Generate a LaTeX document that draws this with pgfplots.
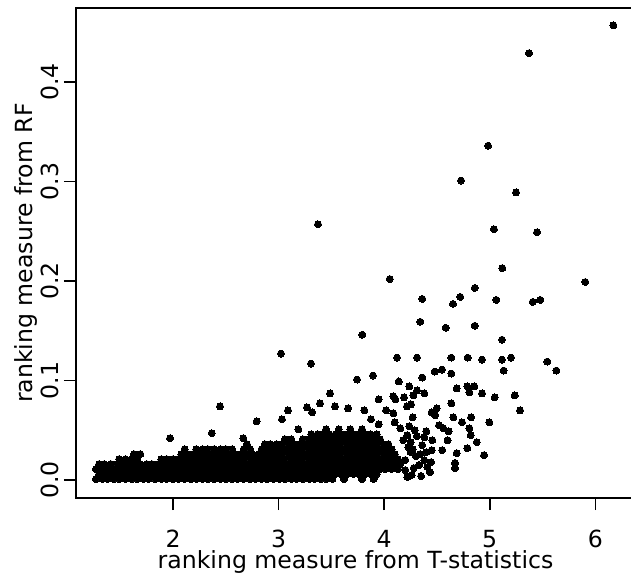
\documentclass[border=0pt]{standalone}
\usepackage{fontspec}
\setmainfont{DejaVu Sans}
\usepackage{pgfplots}
\pgfplotsset{compat=1.18}

% dense band of genes near zero, read row by row
\pgfplotstableread[row sep=\\]{
x y\\
1.27 0.001\\ 1.33 0.001\\ 1.38 0.001\\ 1.44 0.001\\ 1.49 0.001\\ 1.55 0.001\\ 1.61 0.001\\ 1.66 0.001\\ 1.72 0.001\\ 1.77 0.001\\ 1.83 0.001\\ 1.89 0.001\\ 1.94 0.001\\ 2.00 0.001\\ 2.05 0.001\\ 2.11 0.001\\ 2.17 0.001\\ 2.22 0.001\\ 2.28 0.001\\ 2.33 0.001\\ 2.39 0.001\\ 2.45 0.001\\ 2.50 0.001\\ 2.56 0.001\\ 2.61 0.001\\ 2.67 0.001\\ 2.73 0.001\\ 2.78 0.001\\ 2.84 0.001\\ 2.89 0.001\\ 2.95 0.001\\ 3.01 0.001\\ 3.06 0.001\\ 3.12 0.001\\ 3.17 0.001\\ 3.23 0.001\\ 3.29 0.001\\ 3.34 0.001\\ 3.40 0.001\\ 3.45 0.001\\ 3.51 0.001\\ 3.62 0.001\\ 3.79 0.001\\ 3.90 0.001\\
1.30 0.006\\ 1.35 0.006\\ 1.41 0.006\\ 1.47 0.006\\ 1.52 0.006\\ 1.58 0.006\\ 1.63 0.006\\ 1.69 0.006\\ 1.75 0.006\\ 1.80 0.006\\ 1.86 0.006\\ 1.91 0.006\\ 1.97 0.006\\ 2.03 0.006\\ 2.08 0.006\\ 2.14 0.006\\ 2.19 0.006\\ 2.25 0.006\\ 2.31 0.006\\ 2.36 0.006\\ 2.42 0.006\\ 2.47 0.006\\ 2.53 0.006\\ 2.59 0.006\\ 2.64 0.006\\ 2.70 0.006\\ 2.75 0.006\\ 2.81 0.006\\ 2.87 0.006\\ 2.92 0.006\\ 2.98 0.006\\ 3.03 0.006\\ 3.09 0.006\\ 3.15 0.006\\ 3.20 0.006\\ 3.26 0.006\\ 3.31 0.006\\ 3.37 0.006\\ 3.43 0.006\\ 3.48 0.006\\ 3.54 0.006\\ 3.59 0.006\\ 3.65 0.006\\ 3.71 0.006\\ 3.76 0.006\\ 3.82 0.006\\ 3.87 0.006\\ 3.93 0.006\\
1.27 0.011\\ 1.33 0.011\\ 1.38 0.011\\ 1.44 0.011\\ 1.49 0.011\\ 1.55 0.011\\ 1.61 0.011\\ 1.66 0.011\\ 1.72 0.011\\ 1.77 0.011\\ 1.83 0.011\\ 1.89 0.011\\ 1.94 0.011\\ 2.00 0.011\\ 2.05 0.011\\ 2.11 0.011\\ 2.17 0.011\\ 2.22 0.011\\ 2.28 0.011\\ 2.33 0.011\\ 2.39 0.011\\ 2.45 0.011\\ 2.50 0.011\\ 2.56 0.011\\ 2.61 0.011\\ 2.67 0.011\\ 2.73 0.011\\ 2.78 0.011\\ 2.84 0.011\\ 2.89 0.011\\ 2.95 0.011\\ 3.01 0.011\\ 3.06 0.011\\ 3.12 0.011\\ 3.17 0.011\\ 3.23 0.011\\ 3.29 0.011\\ 3.34 0.011\\ 3.40 0.011\\ 3.45 0.011\\ 3.51 0.011\\ 3.57 0.011\\ 3.62 0.011\\ 3.68 0.011\\ 3.73 0.011\\ 3.79 0.011\\ 3.85 0.011\\ 3.90 0.011\\ 3.96 0.011\\ 4.01 0.011\\ 4.07 0.011\\ 4.13 0.011\\
1.30 0.016\\ 1.35 0.016\\ 1.41 0.016\\ 1.47 0.016\\ 1.52 0.016\\ 1.58 0.016\\ 1.63 0.016\\ 1.69 0.016\\ 1.75 0.016\\ 1.80 0.016\\ 1.86 0.016\\ 1.91 0.016\\ 1.97 0.016\\ 2.03 0.016\\ 2.08 0.016\\ 2.14 0.016\\ 2.19 0.016\\ 2.25 0.016\\ 2.31 0.016\\ 2.36 0.016\\ 2.42 0.016\\ 2.47 0.016\\ 2.53 0.016\\ 2.59 0.016\\ 2.64 0.016\\ 2.70 0.016\\ 2.75 0.016\\ 2.81 0.016\\ 2.87 0.016\\ 2.92 0.016\\ 2.98 0.016\\ 3.03 0.016\\ 3.09 0.016\\ 3.15 0.016\\ 3.20 0.016\\ 3.26 0.016\\ 3.31 0.016\\ 3.37 0.016\\ 3.43 0.016\\ 3.48 0.016\\ 3.54 0.016\\ 3.59 0.016\\ 3.65 0.016\\ 3.71 0.016\\ 3.76 0.016\\ 3.82 0.016\\ 3.87 0.016\\ 3.93 0.016\\ 3.99 0.016\\ 4.04 0.016\\ 4.10 0.016\\ 4.15 0.016\\
1.49 0.021\\ 1.55 0.021\\ 1.61 0.021\\ 1.66 0.021\\ 1.89 0.021\\ 1.94 0.021\\ 2.00 0.021\\ 2.05 0.021\\ 2.11 0.021\\ 2.17 0.021\\ 2.22 0.021\\ 2.28 0.021\\ 2.33 0.021\\ 2.39 0.021\\ 2.45 0.021\\ 2.50 0.021\\ 2.56 0.021\\ 2.61 0.021\\ 2.67 0.021\\ 2.73 0.021\\ 2.78 0.021\\ 2.84 0.021\\ 2.89 0.021\\ 2.95 0.021\\ 3.01 0.021\\ 3.06 0.021\\ 3.12 0.021\\ 3.17 0.021\\ 3.23 0.021\\ 3.29 0.021\\ 3.34 0.021\\ 3.40 0.021\\ 3.45 0.021\\ 3.51 0.021\\ 3.57 0.021\\ 3.62 0.021\\ 3.68 0.021\\ 3.73 0.021\\ 3.79 0.021\\ 3.85 0.021\\ 3.90 0.021\\ 3.96 0.021\\ 4.01 0.021\\ 4.07 0.021\\ 4.13 0.021\\
1.63 0.026\\ 1.69 0.026\\ 2.08 0.026\\ 2.14 0.026\\ 2.19 0.026\\ 2.25 0.026\\ 2.31 0.026\\ 2.36 0.026\\ 2.42 0.026\\ 2.47 0.026\\ 2.53 0.026\\ 2.59 0.026\\ 2.64 0.026\\ 2.70 0.026\\ 2.75 0.026\\ 2.81 0.026\\ 2.87 0.026\\ 2.92 0.026\\ 2.98 0.026\\ 3.03 0.026\\ 3.09 0.026\\ 3.15 0.026\\ 3.20 0.026\\ 3.26 0.026\\ 3.31 0.026\\ 3.37 0.026\\ 3.43 0.026\\ 3.48 0.026\\ 3.54 0.026\\ 3.59 0.026\\ 3.65 0.026\\ 3.71 0.026\\ 3.76 0.026\\ 3.82 0.026\\ 3.87 0.026\\ 3.93 0.026\\ 3.99 0.026\\ 4.04 0.026\\ 4.10 0.026\\
2.11 0.031\\ 2.22 0.031\\ 2.28 0.031\\ 2.33 0.031\\ 2.39 0.031\\ 2.45 0.031\\ 2.50 0.031\\ 2.56 0.031\\ 2.67 0.031\\ 2.73 0.031\\ 2.84 0.031\\ 2.89 0.031\\ 2.95 0.031\\ 3.01 0.031\\ 3.06 0.031\\ 3.12 0.031\\ 3.17 0.031\\ 3.23 0.031\\ 3.29 0.031\\ 3.34 0.031\\ 3.40 0.031\\ 3.45 0.031\\ 3.51 0.031\\ 3.57 0.031\\ 3.62 0.031\\ 3.68 0.031\\ 3.73 0.031\\ 3.79 0.031\\ 3.85 0.031\\ 3.90 0.031\\ 3.96 0.031\\ 4.01 0.031\\ 4.07 0.031\\
2.70 0.036\\ 2.87 0.036\\ 2.92 0.036\\ 2.98 0.036\\ 3.03 0.036\\ 3.09 0.036\\ 3.15 0.036\\ 3.20 0.036\\ 3.26 0.036\\ 3.31 0.036\\ 3.37 0.036\\ 3.43 0.036\\ 3.48 0.036\\ 3.54 0.036\\ 3.59 0.036\\ 3.65 0.036\\ 3.71 0.036\\ 3.76 0.036\\ 3.82 0.036\\ 3.87 0.036\\ 3.93 0.036\\ 3.99 0.036\\ 4.04 0.036\\
3.06 0.041\\ 3.12 0.041\\ 3.23 0.041\\ 3.29 0.041\\ 3.34 0.041\\ 3.40 0.041\\ 3.45 0.041\\ 3.51 0.041\\ 3.57 0.041\\ 3.62 0.041\\ 3.68 0.041\\ 3.73 0.041\\ 3.79 0.041\\ 3.85 0.041\\ 3.90 0.041\\ 3.96 0.041\\
3.31 0.046\\ 3.37 0.046\\ 3.43 0.046\\ 3.48 0.046\\ 3.54 0.046\\ 3.59 0.046\\ 3.65 0.046\\ 3.71 0.046\\ 3.76 0.046\\ 3.82 0.046\\ 3.87 0.046\\ 3.93 0.046\\
3.45 0.051\\ 3.57 0.051\\ 3.68 0.051\\ 3.79 0.051\\
}\band

% scattered genes above the band
\pgfplotstableread[row sep=\\]{
x y\\
6.171 0.457\\ 5.372 0.429\\ 4.984 0.336\\ 4.728 0.301\\ 5.249 0.289\\ 3.373 0.257\\
5.040 0.252\\ 5.448 0.249\\ 5.119 0.213\\ 4.053 0.202\\ 5.905 0.199\\ 4.361 0.182\\
4.721 0.184\\ 4.652 0.177\\ 4.858 0.193\\ 5.062 0.181\\ 5.407 0.179\\ 5.479 0.181\\
4.342 0.159\\ 4.583 0.153\\ 4.858 0.155\\ 3.793 0.146\\ 5.116 0.141\\ 3.023 0.127\\
3.307 0.117\\ 4.122 0.123\\ 4.311 0.123\\ 4.636 0.123\\ 4.791 0.123\\ 4.927 0.121\\
5.116 0.121\\ 5.202 0.123\\ 5.545 0.119\\ 5.631 0.110\\ 5.132 0.110\\ 4.479 0.109\\
4.548 0.111\\ 4.636 0.107\\ 4.361 0.103\\ 3.743 0.101\\ 3.894 0.105\\ 4.138 0.099\\
4.238 0.094\\ 4.311 0.090\\ 4.276 0.085\\ 4.380 0.087\\ 4.687 0.092\\ 4.788 0.094\\
4.854 0.094\\ 4.807 0.088\\ 4.927 0.087\\ 5.047 0.083\\ 5.237 0.085\\ 3.948 0.081\\
4.087 0.084\\ 4.106 0.081\\ 4.188 0.083\\ 4.216 0.074\\ 4.254 0.076\\ 4.636 0.077\\
3.534 0.074\\ 3.658 0.072\\ 3.812 0.070\\ 4.018 0.070\\ 4.087 0.067\\ 5.287 0.070\\
3.875 0.061\\ 3.948 0.056\\ 4.100 0.058\\ 4.153 0.052\\ 4.238 0.054\\ 4.270 0.063\\
4.450 0.068\\ 4.498 0.072\\ 4.482 0.065\\ 4.655 0.063\\ 4.823 0.063\\ 4.737 0.058\\
4.996 0.058\\ 4.560 0.052\\ 4.611 0.049\\ 4.807 0.052\\ 4.820 0.045\\ 4.399 0.049\\
4.380 0.043\\ 4.456 0.040\\ 4.877 0.038\\ 4.788 0.032\\ 4.687 0.027\\ 4.946 0.025\\
4.671 0.017\\ 4.671 0.012\\ 4.444 0.018\\ 4.434 0.008\\ 4.270 0.031\\ 3.487 0.087\\
1.972 0.042\\ 2.367 0.047\\ 2.445 0.074\\ 2.666 0.042\\ 2.793 0.059\\ 3.032 0.061\\
3.089 0.070\\ 3.187 0.051\\ 3.269 0.073\\ 3.317 0.068\\ 3.392 0.077\\
4.22 0.045\\ 4.25 0.038\\ 4.30 0.024\\ 4.33 0.015\\ 4.36 0.035\\ 4.20 0.010\\
4.26 0.005\\ 4.40 0.028\\ 4.38 0.020\\ 4.31 0.044\\ 4.20 0.020\\ 4.25 0.028\\
4.55 0.030\\ 4.60 0.040\\ 4.52 0.055\\
4.22 0.003\\ 4.28 0.012\\ 4.35 0.004\\ 4.41 0.013\\ 4.23 0.033\\ 4.34 0.026\\
4.45 0.030\\ 4.18 0.040\\ 4.29 0.050\\
}\spread

\begin{document}
\begin{tikzpicture}
\useasboundingbox (0,0) rectangle (315.5pt,289pt);
\clip (0,0) rectangle (315.5pt,289pt);
\begin{axis}[
  at={(38pt,40pt)}, anchor=south west,
  scale only axis, width=279.5pt, height=245pt,
  xmin=1.081, xmax=6.376, ymin=-0.0181, ymax=0.4744,
  xtick={2,3,4,5,6}, ytick={0,0.1,0.2,0.3,0.4},
  yticklabels={0.0,0.1,0.2,0.3,0.4},
  tick pos=left, tick align=outside, major tick length=6pt,
  axis line style={line width=0.8pt},
  every tick/.style={black, line width=0.8pt},
  font=\fontsize{11.8}{14}\selectfont,
  ticklabel style={font=\fontsize{11.8}{14}\selectfont},
  /pgf/number format/assume math mode=true,
  xticklabel style={anchor=base, yshift=-18.5pt},
  yticklabel style={rotate=90, anchor=base, yshift=2.5pt},
  xlabel={ranking measure from T-statistics},
  ylabel={ranking measure from RF},
  xlabel style={at={(axis description cs:0.5,0)}, anchor=base, yshift=-35pt},
  ylabel style={at={(axis description cs:0,0.5)}, anchor=base, yshift=21.5pt},
]
\addplot[only marks, mark=*, mark size=1.75pt,
  mark options={fill=black, draw=black, line width=0pt}] table {\band};
\addplot[only marks, mark=*, mark size=1.75pt,
  mark options={fill=black, draw=black, line width=0pt}] table {\spread};
\end{axis}
\end{tikzpicture}
\end{document}
